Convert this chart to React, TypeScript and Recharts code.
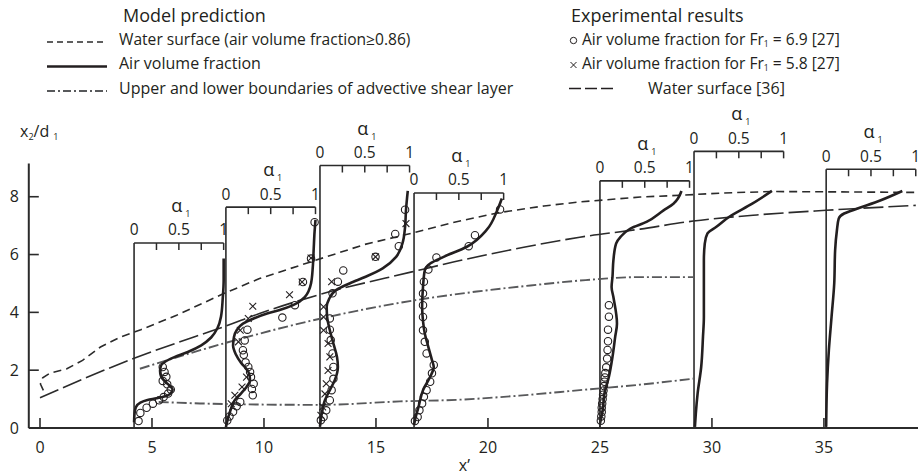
import React from 'react';
import { ComposedChart, Line, Scatter, XAxis, YAxis, ReferenceLine, Legend } from 'recharts';

type Pt = [number, number];

const FONT = '"Open Sans", "Noto Sans", "DejaVu Sans", sans-serif';
const INK = '#231f20';
const AXIS = '#2b2b2b';
const GREY = '#58595b';

// ---------- axes ----------
const xTicks = [0, 5, 10, 15, 20, 25, 30, 35];
const yTicks = [0, 2, 4, 6, 8];
const X_DOMAIN: [number, number] = [-0.5, 39.2];
const Y_DOMAIN: [number, number] = [0, 11];
const Y_AXIS_TOP = 9.15;

// ---------- alpha_1 profile frames ----------
const panelX0 = [4.2, 8.3, 12.5, 16.7, 25.0, 29.2, 35.1];
const panelTop = [6.4, 7.64, 9.08, 8.13, 8.55, 9.57, 8.95];
const ALPHA_SPAN = 4; // x' units for alpha_1 = 0 .. 1
const alphaTicks = [0, 0.25, 0.5, 0.75, 1];
const alphaTickLabels = ['0', '', '0.5', '', '1'];

// ---------- model: air volume fraction profiles (alpha_1, x2/d1) ----------
const profileP1: Pt[] = [[0, 0.2], [0.005, 0.5], [0.02, 0.72], [0.07, 0.88], [0.15, 0.97], [0.25, 1.03], [0.35, 1.1], [0.41, 1.2], [0.43, 1.32], [0.4, 1.46], [0.34, 1.62], [0.3, 1.8], [0.29, 1.98], [0.3, 2.15], [0.35, 2.3], [0.45, 2.45], [0.6, 2.63], [0.75, 2.86], [0.86, 3.13], [0.93, 3.45], [0.97, 3.85], [0.99, 4.5], [1.0, 5.1], [1.0, 5.86]];
const profileP2: Pt[] = [[0, 0.03], [0.02, 0.3], [0.05, 0.6], [0.1, 0.97], [0.17, 1.2], [0.23, 1.42], [0.27, 1.65], [0.25, 1.95], [0.17, 2.25], [0.11, 2.55], [0.08, 2.85], [0.09, 3.15], [0.12, 3.38], [0.19, 3.61], [0.31, 3.79], [0.46, 3.96], [0.6, 4.08], [0.75, 4.25], [0.88, 4.53], [0.95, 5.0], [0.97, 5.57], [0.98, 6.2], [0.99, 6.8], [1.0, 7.2]];
const profileP3: Pt[] = [[0, 0.05], [0.02, 0.5], [0.055, 0.96], [0.11, 1.31], [0.165, 1.65], [0.2, 2.11], [0.19, 2.46], [0.15, 2.92], [0.11, 3.38], [0.08, 3.84], [0.075, 4.19], [0.1, 4.45], [0.18, 4.77], [0.33, 5.0], [0.51, 5.23], [0.7, 5.52], [0.85, 5.92], [0.92, 6.38], [0.95, 6.96], [0.96, 7.53], [0.98, 8.2]];
const profileP4: Pt[] = [[0, 0.1], [0.01, 0.27], [0.05, 0.73], [0.1, 1.31], [0.18, 1.77], [0.22, 2.11], [0.2, 2.35], [0.16, 2.8], [0.12, 3.27], [0.1, 3.7], [0.09, 4.19], [0.1, 4.88], [0.12, 5.46], [0.18, 5.69], [0.33, 5.92], [0.59, 6.27], [0.81, 6.85], [0.93, 7.54], [0.98, 7.94]];
const profileP5: Pt[] = [[0, 0.15], [0.03, 0.61], [0.05, 1.19], [0.1, 1.77], [0.14, 2.46], [0.17, 3.15], [0.19, 3.61], [0.15, 4.53], [0.13, 4.88], [0.14, 5.23], [0.15, 5.8], [0.18, 6.38], [0.23, 6.61], [0.34, 6.9], [0.52, 7.13], [0.71, 7.53], [0.82, 7.76], [0.91, 8.2]];
const profileP6: Pt[] = [[0.01, 0.04], [0.02, 0.5], [0.04, 1.19], [0.08, 2.11], [0.1, 3.15], [0.11, 3.84], [0.11, 5.0], [0.11, 5.8], [0.12, 6.38], [0.15, 6.73], [0.25, 6.96], [0.39, 7.3], [0.65, 7.76], [0.87, 8.2]];
const profileP7: Pt[] = [[0, 0.04], [0.01, 1.54], [0.03, 2.69], [0.06, 3.84], [0.09, 5.0], [0.1, 6.15], [0.12, 6.84], [0.14, 7.24], [0.2, 7.42], [0.35, 7.59], [0.61, 7.88], [0.85, 8.2]];
const profiles = [profileP1, profileP2, profileP3, profileP4, profileP5, profileP6, profileP7];

// ---------- experiments: circles Fr1 = 6.9, crosses Fr1 = 5.8 (alpha_1, x2/d1) ----------
const circlesP1: Pt[] = [[0.05, 0.24], [0.07, 0.52], [0.14, 0.7], [0.21, 0.84], [0.28, 0.96], [0.33, 1.07], [0.38, 1.19], [0.41, 1.33], [0.37, 1.51], [0.32, 1.63], [0.36, 1.77], [0.34, 1.94], [0.32, 2.11]];
const circlesP2: Pt[] = [[0.015, 0.26], [0.04, 0.4], [0.08, 0.56], [0.12, 0.75], [0.16, 0.9], [0.3, 1.13], [0.29, 1.35], [0.31, 1.53], [0.28, 1.76], [0.27, 1.94], [0.25, 2.11], [0.22, 2.27], [0.2, 2.53], [0.19, 2.69], [0.21, 3.03], [0.24, 3.4], [0.63, 3.82], [0.77, 4.25], [0.86, 5.05], [0.95, 5.86], [0.99, 7.12]];
const circlesP3: Pt[] = [[0.01, 0.27], [0.04, 0.38], [0.07, 0.61], [0.11, 0.96], [0.13, 1.31], [0.15, 1.7], [0.15, 2.11], [0.14, 2.58], [0.12, 3.04], [0.11, 3.4], [0.11, 3.79], [0.14, 4.66], [0.2, 5.06], [0.26, 5.45], [0.62, 5.92], [0.88, 6.29], [0.84, 6.71], [0.95, 7.55]];
const circlesP4: Pt[] = [[0.01, 0.24], [0.04, 0.38], [0.06, 0.61], [0.09, 0.85], [0.11, 1.08], [0.14, 1.31], [0.18, 1.6], [0.2, 1.89], [0.22, 2.18], [0.14, 2.58], [0.12, 2.98], [0.1, 3.38], [0.1, 3.84], [0.1, 4.25], [0.1, 4.65], [0.11, 5.06], [0.16, 5.48], [0.25, 5.9], [0.61, 6.29], [0.68, 6.67], [0.96, 7.56]];
const circlesP5: Pt[] = [[0.01, 0.25], [0.015, 0.4], [0.02, 0.55], [0.02, 0.7], [0.025, 0.85], [0.03, 1.0], [0.035, 1.15], [0.04, 1.3], [0.045, 1.45], [0.05, 1.6], [0.055, 1.75], [0.06, 1.9], [0.07, 2.1], [0.08, 2.4], [0.085, 2.7], [0.09, 3.0], [0.09, 3.4], [0.1, 3.85], [0.1, 4.25]];
const crossesP2: Pt[] = [[0.06, 0.84], [0.1, 1.13], [0.18, 1.42], [0.23, 1.76], [0.14, 2.98], [0.16, 3.38], [0.25, 3.79], [0.3, 4.21], [0.71, 4.61], [0.85, 5.05], [0.95, 5.88]];
const crossesP3: Pt[] = [[0.01, 0.44], [0.03, 0.73], [0.055, 1.18], [0.07, 1.53], [0.09, 1.99], [0.11, 2.46], [0.09, 2.92], [0.04, 3.38], [0.04, 3.84], [0.04, 4.19], [0.13, 5.06], [0.62, 5.92], [0.96, 7.07]];
const circleSets: [number, Pt[]][] = [[0, circlesP1], [1, circlesP2], [2, circlesP3], [3, circlesP4], [4, circlesP5]];
const crossSets: [number, Pt[]][] = [[1, crossesP2], [2, crossesP3]];

// ---------- lines in (x', x2/d1) ----------
const waterSurfaceModel: Pt[] = [[0.15, 1.3], [0.02, 1.52], [0.12, 1.74], [0.45, 1.9], [1.2, 2.05], [1.9, 2.34], [2.7, 2.8], [3.6, 3.15], [4.5, 3.4], [6.1, 3.9], [8.2, 4.65], [9.8, 5.17], [12.3, 5.8], [14.5, 6.35], [16.5, 6.72], [18.5, 7.12], [20.5, 7.45], [22.5, 7.68], [24.1, 7.82], [26.8, 7.99], [28.6, 8.05], [30.5, 8.13], [32.7, 8.18], [35.0, 8.17], [39.1, 8.15]];
const waterSurfaceExp: Pt[] = [[0, 1.05], [4.17, 2.4], [7.14, 3.22], [8.2, 3.5], [9.8, 3.96], [12.5, 4.62], [16.6, 5.4], [18.5, 5.75], [21.6, 6.25], [24.1, 6.6], [26.8, 6.88], [29.17, 7.16], [32, 7.37], [35.1, 7.53], [39.1, 7.7]];
const shearUpper: Pt[] = [[4.46, 2.05], [8.18, 2.92], [12.5, 3.78], [16.67, 4.41], [19.5, 4.72], [21.9, 4.93], [24.1, 5.1], [26.8, 5.22], [29.2, 5.22]];
const shearLower: Pt[] = [[5.3, 0.9], [7.14, 0.85], [10, 0.81], [12.5, 0.8], [16.07, 0.92], [18.75, 0.98], [21.4, 1.12], [24.1, 1.31], [26.8, 1.5], [29.2, 1.71]];

// ---------- derived series ----------
const xy = (pts: Pt[]) => pts.map(([x, y]) => ({ x, y }));
const onPanel = (panel: number, pts: Pt[]) => pts.map(([a, y]) => ({ x: panelX0[panel] + ALPHA_SPAN * a, y }));
const profileSeries = profiles.map((p, i) => onPanel(i, p));
const circleData = circleSets.flatMap(([i, p]) => onPanel(i, p));
const crossData = crossSets.flatMap(([i, p]) => onPanel(i, p));
const frameMarks = panelX0.flatMap((x0, i) =>
  alphaTicks.map((a, j) => ({ x: x0 + ALPHA_SPAN * a, y: panelTop[i], a, label: alphaTickLabels[j] }))
);

const XTick = (props: any) => {
  const { x, y, payload } = props;
  return (
    <g>
      <line x1={x} x2={x} y1={y} y2={y - 10} stroke={AXIS} strokeWidth={1.6} />
      <text x={x} y={y + 24.5} textAnchor="middle" fontSize={16} fill={INK} fontFamily={FONT}>{payload.value}</text>
    </g>
  );
};

const YTick = (props: any) => {
  const { x, y, payload } = props;
  return (
    <g>
      <line x1={x} x2={x + 10} y1={y} y2={y} stroke={AXIS} strokeWidth={1.6} />
      <text x={x - 10} y={y + 5.7} textAnchor="end" fontSize={16} fill={INK} fontFamily={FONT}>{payload.value}</text>
    </g>
  );
};

const YTitle = (props: any) => {
  const vb = props.viewBox || { x: 0, y: 110 };
  return (
    <text x={vb.x + 20} y={vb.y + 27} fontSize={16} fill={INK} fontFamily={FONT}>
      x<tspan fontSize={9} dy={3}>2</tspan>
      <tspan dy={-3}>/d</tspan>
      <tspan fontSize={9} dx={4} dy={3}>1</tspan>
    </text>
  );
};

const FrameMark = (props: any) => {
  const { cx, cy, payload } = props;
  return (
    <g fontFamily={FONT}>
      {payload.a > 0 && <line x1={cx} x2={cx} y1={cy} y2={cy + 7} stroke={AXIS} strokeWidth={1.5} />}
      {payload.label && (
        <text x={cx} y={cy - 7.5} textAnchor="middle" fontSize={15.5} fill={INK}>{payload.label}</text>
      )}
      {payload.a === 0.5 && (
        <g>
          <text x={cx - 2} y={cy - 31} textAnchor="middle" fontSize={18} fill={INK}>α</text>
          <text x={cx + 9} y={cy - 26} textAnchor="middle" fontSize={9} fill={INK}>1</text>
        </g>
      )}
    </g>
  );
};

const CircleMark = (props: any) => (
  <circle cx={props.cx} cy={props.cy} r={3.7} fill="none" stroke={INK} strokeWidth={1.1} />
);

const CrossMark = (props: any) => {
  const { cx, cy } = props;
  const d = 3.4;
  return (
    <g stroke={INK} strokeWidth={1.1}>
      <line x1={cx - d} y1={cy - d} x2={cx + d} y2={cy + d} />
      <line x1={cx - d} y1={cy + d} x2={cx + d} y2={cy - d} />
    </g>
  );
};

const LegendBlock = () => (
  <svg width={920} height={104} style={{ display: 'block', fontFamily: FONT }}>
    <g fill={INK}>
      <text x={123} y={21.5} fontSize={18}>Model prediction</text>
      <line x1={47} x2={107} y1={42} y2={42} stroke={AXIS} strokeWidth={1.5} strokeDasharray="6 4" />
      <text x={119} y={44.5} fontSize={15.6}>Water surface (air volume fraction≥0.86)</text>
      <line x1={47} x2={107} y1={66.5} y2={66.5} stroke={INK} strokeWidth={2.5} />
      <text x={119} y={69} fontSize={16}>Air volume fraction</text>
      <line x1={47} x2={107} y1={91} y2={91} stroke={GREY} strokeWidth={1.8} strokeDasharray="8 3 2 3" />
      <text x={119} y={93.5} fontSize={16}>Upper and lower boundaries of advective shear layer</text>

      <text x={571} y={21.5} fontSize={18}>Experimental results</text>
      <circle cx={573.5} cy={40.5} r={3.2} fill="none" stroke={INK} strokeWidth={1} />
      <text x={582} y={44.5} fontSize={15.6}>
        Air volume fraction for Fr<tspan fontSize={8.5} dy={2}>1</tspan>
        <tspan dy={-2}> = 6.9 [27]</tspan>
      </text>
      <g stroke={INK} strokeWidth={1}>
        <line x1={570.5} y1={62} x2={576.5} y2={68} />
        <line x1={570.5} y1={68} x2={576.5} y2={62} />
      </g>
      <text x={582} y={69} fontSize={15.6}>
        Air volume fraction for Fr<tspan fontSize={8.5} dy={2}>1</tspan>
        <tspan dy={-2}> = 5.8 [27]</tspan>
      </text>
      <line x1={569} x2={613} y1={88.5} y2={88.5} stroke={INK} strokeWidth={1.5} strokeDasharray="12 4" />
      <text x={648} y={93.5} fontSize={16}>Water surface [36]</text>
    </g>
  </svg>
);

export default function App() {
  return (
    <div style={{ position: 'absolute', left: 0, top: 0, width: 920, height: 476, background: '#fff' }}>
      <ComposedChart
        width={920}
        height={476}
        margin={{ top: 110, right: 2, bottom: 0, left: 0 }}
        style={{ fontFamily: FONT }}
      >
        <XAxis
          type="number"
          dataKey="x"
          domain={X_DOMAIN}
          ticks={xTicks}
          interval={0}
          height={48}
          axisLine={{ stroke: AXIS, strokeWidth: 2 }}
          tickLine={false}
          tickSize={0}
          tickMargin={0}
          tick={<XTick />}
          label={{ value: 'x’', position: 'insideBottom', offset: 5, dx: -9, style: { fontSize: 16, fill: INK, fontFamily: FONT } }}
        />
        <YAxis
          type="number"
          dataKey="y"
          domain={Y_DOMAIN}
          ticks={yTicks}
          interval={0}
          width={28.8}
          axisLine={false}
          tickLine={false}
          tickSize={0}
          tickMargin={0}
          tick={<YTick />}
          label={{ content: YTitle }}
        />
        <Legend
          content={() => <LegendBlock />}
          layout="horizontal"
          verticalAlign="middle"
          align="center"
          wrapperStyle={{ top: 0, left: 0, width: 920, height: 104, margin: 0 }}
        />

        <ReferenceLine
          segment={[{ x: X_DOMAIN[0], y: 0 }, { x: X_DOMAIN[0], y: Y_AXIS_TOP }]}
          stroke={AXIS}
          strokeWidth={2}
        />

        {panelX0.map((x0, i) => (
          <ReferenceLine
            key={`v${i}`}
            segment={[{ x: x0, y: 0 }, { x: x0, y: panelTop[i] }]}
            stroke={AXIS}
            strokeWidth={1.6}
          />
        ))}
        {panelX0.map((x0, i) => (
          <ReferenceLine
            key={`h${i}`}
            segment={[{ x: x0, y: panelTop[i] }, { x: x0 + ALPHA_SPAN, y: panelTop[i] }]}
            stroke={AXIS}
            strokeWidth={1.6}
          />
        ))}

        <Line data={xy(waterSurfaceModel)} dataKey="y" type="linear" stroke={AXIS} strokeWidth={1.6} strokeDasharray="8 5" dot={false} isAnimationActive={false} />
        <Line data={xy(waterSurfaceExp)} dataKey="y" type="monotoneX" stroke={AXIS} strokeWidth={1.6} strokeDasharray="20 5" dot={false} isAnimationActive={false} />
        <Line data={xy(shearUpper)} dataKey="y" type="monotoneX" stroke={GREY} strokeWidth={1.9} strokeDasharray="10 3 2 3" dot={false} isAnimationActive={false} />
        <Line data={xy(shearLower)} dataKey="y" type="monotoneX" stroke={GREY} strokeWidth={1.9} strokeDasharray="10 3 2 3" dot={false} isAnimationActive={false} />

        {profileSeries.map((d, i) => (
          <Line key={`p${i}`} data={d} dataKey="y" type="monotoneY" stroke={INK} strokeWidth={2.6} dot={false} isAnimationActive={false} />
        ))}

        <Scatter data={circleData} shape={CircleMark} isAnimationActive={false} />
        <Scatter data={crossData} shape={CrossMark} isAnimationActive={false} />
        <Scatter data={frameMarks} shape={FrameMark} isAnimationActive={false} />
      </ComposedChart>
    </div>
  );
}
